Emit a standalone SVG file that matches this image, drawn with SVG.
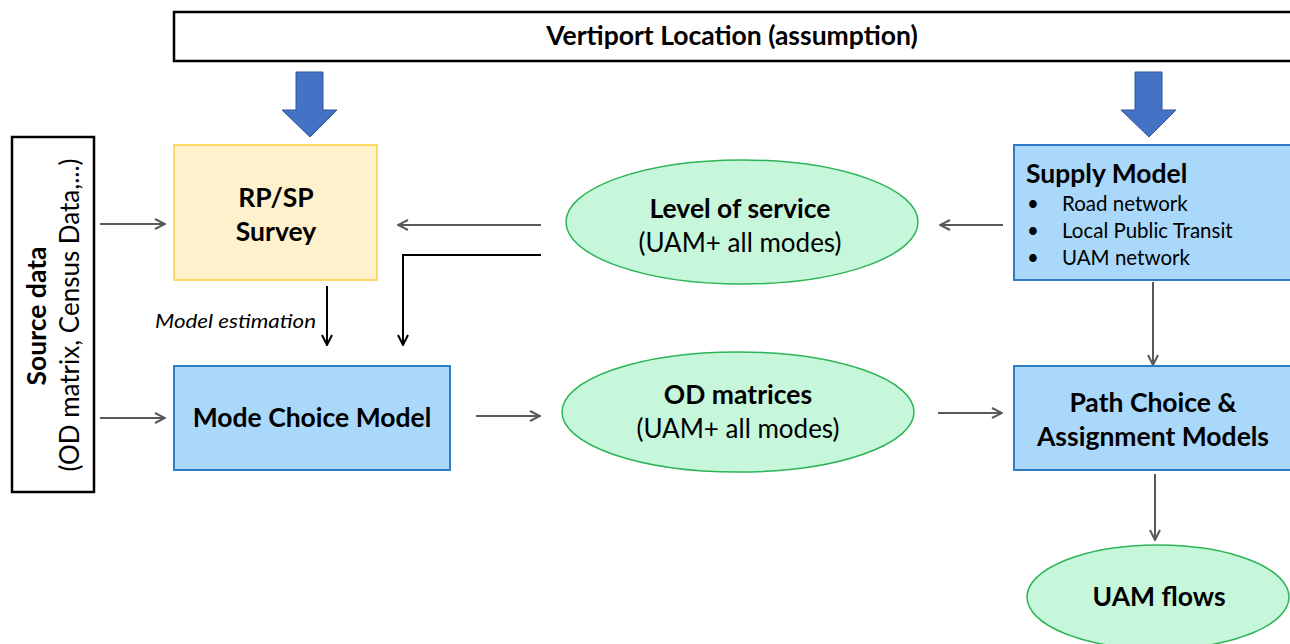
<svg xmlns="http://www.w3.org/2000/svg" width="1290" height="644" viewBox="0 0 1290 644">
  <style>
    text { font-family: Lato, "Open Sans", "Liberation Sans", sans-serif; fill: #000; }
    .b { font-weight: bold; font-size: 26.5px; }
    .r { font-size: 26px; }
    .t19 { font-size: 20.5px; }
    .blue { fill: #A9D8FB; stroke: #2E7BC8; stroke-width: 2; }
    .green { fill: #C6F7DB; stroke: #2DB457; stroke-width: 1.5; }
    .yellow { fill: #FFF1CC; stroke: #FFD966; stroke-width: 2; }
    .frame { fill: #fff; stroke: #000; stroke-width: 2.5; }
    .block { fill: #4472C4; stroke: #2F5597; stroke-width: 1; }
    .gray { stroke: #595959; stroke-width: 2; fill: none; marker-end: url(#ag); }
    .dark { stroke: #000; stroke-width: 2; fill: none; marker-end: url(#ab); }
  </style>
  <defs>
    <marker id="ag" viewBox="0 0 12 12" refX="11" refY="6" markerWidth="12" markerHeight="12" markerUnits="userSpaceOnUse" orient="auto">
      <path d="M1,1 L11,6 L1,11" fill="none" stroke="#595959" stroke-width="2"/>
    </marker>
    <marker id="ab" viewBox="0 0 12 12" refX="11" refY="6" markerWidth="12" markerHeight="12" markerUnits="userSpaceOnUse" orient="auto">
      <path d="M1,1 L11,6 L1,11" fill="none" stroke="#000" stroke-width="2"/>
    </marker>
  </defs>

  <rect width="1290" height="644" fill="#fff"/>

  <!-- connectors -->
  <g id="connectors">
    <path class="block" d="M296,72 H323 V110 H337 L310,137 L282,110 H296 Z"/>
    <path class="block" d="M1135,72 H1162 V110 H1176 L1149,137 L1121,110 H1135 Z"/>
    <line class="gray" x1="100" y1="224" x2="165" y2="224"/>
    <line class="gray" x1="100" y1="418" x2="165" y2="418"/>
    <line class="gray" x1="541" y1="225" x2="398" y2="225"/>
    <path class="dark" d="M541,255 H403 V345"/>
    <line class="dark" x1="327" y1="286" x2="327" y2="345"/>
    <line class="gray" x1="476" y1="416" x2="540" y2="416"/>
    <line class="gray" x1="1003" y1="225" x2="940" y2="225"/>
    <line class="gray" x1="1153" y1="282" x2="1153" y2="365"/>
    <line class="gray" x1="938" y1="413" x2="1002" y2="413"/>
    <line class="gray" x1="1155" y1="474" x2="1155" y2="540"/>
    <text x="155" y="328" font-size="19" font-style="italic" textLength="161" lengthAdjust="spacingAndGlyphs">Model estimation</text>
  </g>

  <g id="vertiport">
    <rect class="frame" x="174" y="12" width="1130" height="49"/>
    <text class="b" x="732" y="45" text-anchor="middle">Vertiport Location (assumption)</text>
  </g>

  <g id="source-data">
    <rect class="frame" x="12" y="137" width="82" height="355"/>
    <text class="b" transform="translate(46,316) rotate(-90)" text-anchor="middle">Source data</text>
    <text class="r" transform="translate(79,315) rotate(-90)" text-anchor="middle">(OD matrix, Census Data,...)</text>
  </g>

  <g id="survey">
    <rect class="yellow" x="174" y="145" width="203" height="135"/>
    <text class="b" x="276" y="207" text-anchor="middle">RP/SP</text>
    <text class="b" x="276" y="241" text-anchor="middle">Survey</text>
  </g>

  <g id="level-of-service">
    <ellipse class="green" cx="742" cy="222" rx="176" ry="62"/>
    <text class="b" x="740" y="218" text-anchor="middle">Level of service</text>
    <text class="r" x="740" y="252" text-anchor="middle">(UAM+ all modes)</text>
  </g>

  <g id="supply-model">
    <rect class="blue" x="1014" y="145" width="290" height="135"/>
    <text class="b" x="1026" y="183">Supply Model</text>
    <g class="t19">
      <text x="1027" y="211">•</text><text x="1062" y="211">Road network</text>
      <text x="1027" y="238">•</text><text x="1062" y="238">Local Public Transit</text>
      <text x="1027" y="265">•</text><text x="1062" y="265">UAM network</text>
    </g>
  </g>

  <g id="mode-choice">
    <rect class="blue" x="174" y="366" width="276" height="104"/>
    <text class="b" x="312" y="427" text-anchor="middle">Mode Choice Model</text>
  </g>

  <g id="od-matrices">
    <ellipse class="green" cx="738" cy="412" rx="176" ry="60"/>
    <text class="b" x="738" y="404" text-anchor="middle">OD matrices</text>
    <text class="r" x="738" y="438" text-anchor="middle">(UAM+ all modes)</text>
  </g>

  <g id="path-choice">
    <rect class="blue" x="1014" y="366" width="290" height="104"/>
    <text class="b" x="1153" y="412" text-anchor="middle">Path Choice &amp;</text>
    <text class="b" x="1153" y="446" text-anchor="middle">Assignment Models</text>
  </g>

  <g id="uam-flows">
    <ellipse class="green" cx="1158" cy="597" rx="131" ry="52"/>
    <text class="b" x="1159" y="606" text-anchor="middle">UAM flows</text>
  </g>
</svg>
